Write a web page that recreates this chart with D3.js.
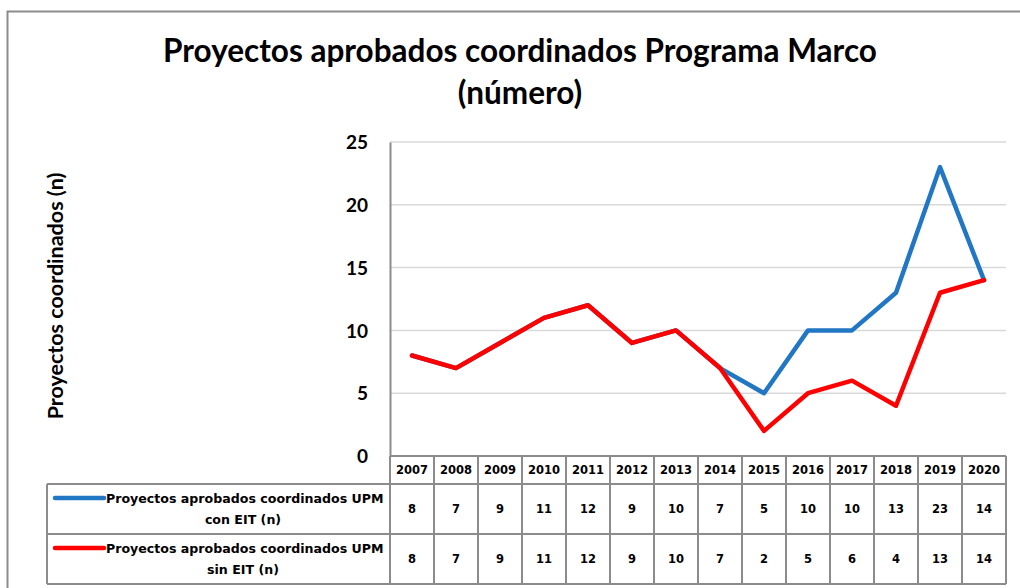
<!DOCTYPE html>
<html>
<head>
<meta charset="utf-8">
<script src="https://cdn.jsdelivr.net/npm/d3@7"></script>
<style>
  body { margin: 0; background: #fff; }
  svg text { fill: #000; }
</style>
</head>
<body>
<svg id="chart" width="1020" height="588"></svg>
<script>
var years = ["2007","2008","2009","2010","2011","2012","2013","2014","2015","2016","2017","2018","2019","2020"];
var conEIT = [8, 7, 9, 11, 12, 9, 10, 7, 5, 10, 10, 13, 23, 14];
var sinEIT = [8, 7, 9, 11, 12, 9, 10, 7, 2, 5, 6, 4, 13, 14];
var yTicks = [0, 5, 10, 15, 20, 25];
var seriesNames = [
  ["Proyectos aprobados coordinados UPM", "con EIT (n)"],
  ["Proyectos aprobados coordinados UPM", "sin EIT (n)"]
];
var seriesColors = ["#2277c4", "#ff0000"];

var svg = d3.select("#chart");
var plot = {left: 390, right: 1006, top: 142, bottom: 456};
var tableLeft = 47;
var rowH = [28, 50, 50];

var x = d3.scaleBand().domain(years).range([plot.left, plot.right]);
var y = d3.scaleLinear().domain([0, 25]).range([plot.bottom, plot.top]);

// outer frame
svg.append("rect")
  .attr("x", 7.5).attr("y", 11.5)
  .attr("width", 1030).attr("height", 600)
  .attr("fill", "none")
  .attr("stroke", "#8c8c8c")
  .attr("stroke-width", 2);

// title
svg.append("text")
  .attr("x", 520).attr("y", 62)
  .attr("text-anchor", "middle")
  .style("font-family", "Lato, 'Open Sans', sans-serif")
  .style("font-weight", "bold")
  .style("font-size", "31.5px")
  .text("Proyectos aprobados coordinados Programa Marco");
svg.append("text")
  .attr("x", 520).attr("y", 104)
  .attr("text-anchor", "middle")
  .style("font-family", "Lato, 'Open Sans', sans-serif")
  .style("font-weight", "bold")
  .style("font-size", "31.5px")
  .text("(número)");

// gridlines
svg.append("g")
  .selectAll("line")
  .data(yTicks.filter(function(d) { return d > 0; }))
  .enter()
  .append("line")
    .attr("x1", plot.left).attr("x2", plot.right)
    .attr("y1", function(d) { return y(d); })
    .attr("y2", function(d) { return y(d); })
    .attr("stroke", "#d9d9d9")
    .attr("stroke-width", 1.5);

// y axis
var yAxis = svg.append("g")
  .attr("transform", "translate(" + plot.left + ",0)")
  .call(d3.axisLeft(y).tickValues(yTicks).tickSize(0).tickPadding(22));
yAxis.select(".domain").attr("stroke", "#8c8c8c").attr("stroke-width", 2);
yAxis.selectAll("text")
  .attr("dy", "0.35em")
  .style("font-family", "Lato, 'Open Sans', sans-serif")
  .style("font-weight", "bold")
  .style("font-size", "19px");

svg.append("text")
  .attr("transform", "translate(63,296) rotate(-90)")
  .attr("text-anchor", "middle")
  .style("font-family", "Lato, 'Open Sans', sans-serif")
  .style("font-weight", "bold")
  .style("font-size", "21.5px")
  .text("Proyectos coordinados  (n)");

// lines
var line = d3.line()
  .x(function(d, i) { return x(years[i]) + x.bandwidth() / 2; })
  .y(function(d) { return y(d); });

[conEIT, sinEIT].forEach(function(vals, k) {
  svg.append("path")
    .datum(vals)
    .attr("d", line)
    .attr("fill", "none")
    .attr("stroke", seriesColors[k])
    .attr("stroke-width", 4.5)
    .attr("stroke-linejoin", "round")
    .attr("stroke-linecap", "round");
});

// data table
var tableFont = "'DejaVu Sans', Verdana, sans-serif";
var gridColor = "#8c8c8c";
var row0 = plot.bottom, row1 = row0 + rowH[0], row2 = row1 + rowH[1], row3 = row2 + rowH[2];
var table = svg.append("g");

// horizontal lines
table.append("line").attr("x1", plot.left).attr("x2", plot.right).attr("y1", row0).attr("y2", row0);
table.append("line").attr("x1", tableLeft).attr("x2", plot.right).attr("y1", row1).attr("y2", row1);
table.append("line").attr("x1", tableLeft).attr("x2", plot.right).attr("y1", row2).attr("y2", row2);
table.append("line").attr("x1", tableLeft).attr("x2", plot.right).attr("y1", row3).attr("y2", row3);
// vertical lines
table.append("line").attr("x1", tableLeft).attr("x2", tableLeft).attr("y1", row1).attr("y2", row3);
table.selectAll("line.v")
  .data(years.concat(["end"]))
  .enter()
  .append("line")
    .attr("class", "v")
    .attr("x1", function(d) { return d === "end" ? plot.right : x(d); })
    .attr("x2", function(d) { return d === "end" ? plot.right : x(d); })
    .attr("y1", row0).attr("y2", row3);
table.selectAll("line")
  .attr("stroke", gridColor)
  .attr("stroke-width", 2);

table.selectAll("text.year")
  .data(years)
  .enter()
  .append("text")
    .attr("class", "year")
    .attr("x", function(d) { return x(d) + x.bandwidth() / 2; })
    .attr("y", (row0 + row1) / 2)
    .attr("dy", "0.36em")
    .attr("text-anchor", "middle")
    .style("font-family", tableFont)
    .style("font-weight", "bold")
    .style("font-size", "11.5px")
    .text(function(d) { return d; });

[conEIT, sinEIT].forEach(function(vals, k) {
  var top = k === 0 ? row1 : row2;
  var mid = top + rowH[k + 1] / 2;
  table.selectAll("text.val" + k)
    .data(vals)
    .enter()
    .append("text")
      .attr("class", "val" + k)
      .attr("x", function(d, i) { return x(years[i]) + x.bandwidth() / 2; })
      .attr("y", mid)
      .attr("dy", "0.36em")
      .attr("text-anchor", "middle")
      .style("font-family", tableFont)
      .style("font-weight", "bold")
      .style("font-size", "11.5px")
      .text(function(d) { return d; });

  // legend key
  table.append("line")
    .attr("x1", 55).attr("x2", 104)
    .attr("y1", top + 14).attr("y2", top + 14)
    .attr("stroke", seriesColors[k])
    .attr("stroke-width", 4.5)
    .attr("stroke-linecap", "round");
  table.append("text")
    .attr("x", 106).attr("y", top + 14)
    .attr("dy", "0.36em")
    .style("font-family", tableFont)
    .style("font-weight", "bold")
    .style("font-size", "12.6px")
    .text(seriesNames[k][0]);
  table.append("text")
    .attr("x", 243).attr("y", top + 35)
    .attr("dy", "0.36em")
    .attr("text-anchor", "middle")
    .style("font-family", tableFont)
    .style("font-weight", "bold")
    .style("font-size", "12.6px")
    .text(seriesNames[k][1]);
});
</script>
</body>
</html>
